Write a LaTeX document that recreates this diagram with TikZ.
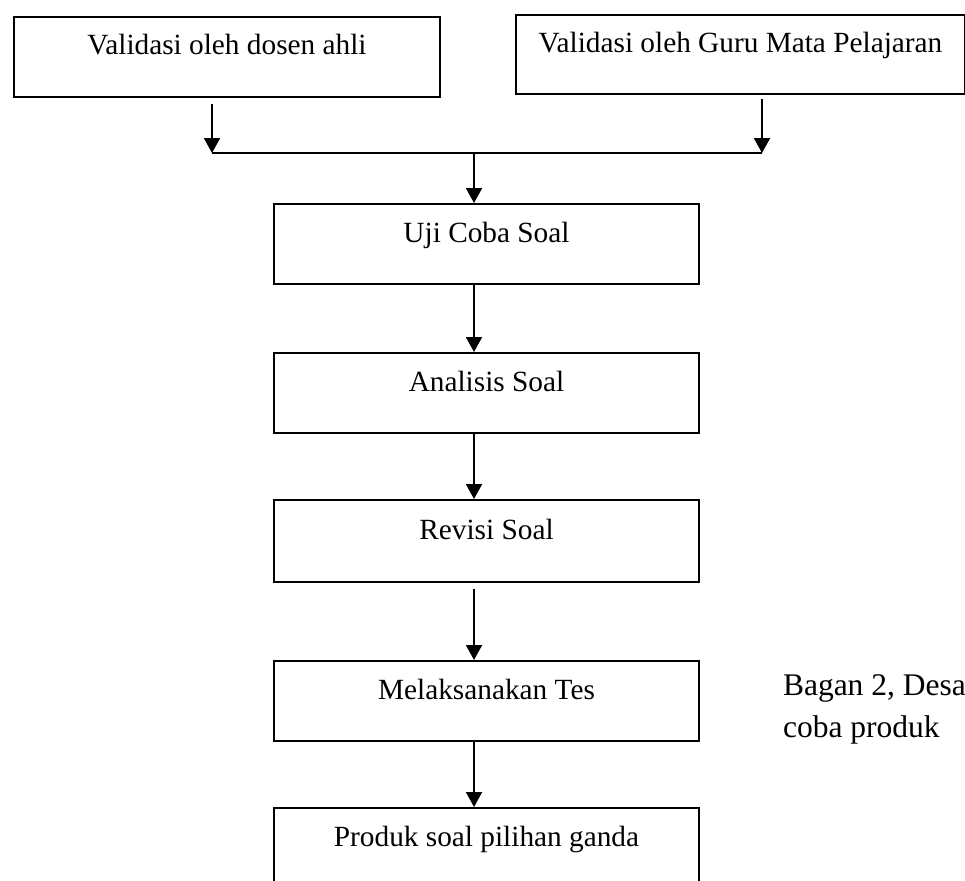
\documentclass[tikz,border=0pt]{standalone}
\usepackage{fontspec}
\setmainfont{Liberation Serif}
\usetikzlibrary{arrows.meta}
\begin{document}
\begin{tikzpicture}[x=1pt,y=-1pt,
  line width=2pt,
  box/.style={draw, line width=2pt, rectangle, anchor=north west, inner sep=0pt,
    minimum height=80pt, text height=20pt, text depth=24pt,
    font=\fontsize{29.3}{35}\selectfont},
  arr/.style={-{Triangle[width=16pt,length=15pt]}, line width=2pt},
  side/.style={anchor=base west, align=left, inner sep=0pt,
    font=\fontsize{31.5}{42}\selectfont}
]
\useasboundingbox (0,0) rectangle (965,880);
\fill[white] (0,0) rectangle (965,880);

\node[box, minimum width=426pt] (v1) at (13,16) {Validasi oleh dosen ahli};
\node[box, minimum width=449pt, minimum height=79pt] (v2) at (515,14) {Validasi oleh Guru Mata Pelajaran};

\node[box, minimum width=425pt] (uji) at (273,203) {Uji Coba Soal};
\node[box, minimum width=425pt] (ana) at (273,352) {Analisis Soal};
\node[box, minimum width=425pt, minimum height=82pt] (rev) at (273,499) {Revisi Soal};
\node[box, minimum width=425pt] (mel) at (273,660) {Melaksanakan Tes};
\node[box, minimum width=425pt] (pro) at (273,807) {Produk soal pilihan ganda};

\node[side] (cap) at (782,737) {Bagan 2, Desa\\coba produk};

\coordinate (j1) at (212,153);
\coordinate (j2) at (762,153);
\coordinate (jc) at (474,153);

\draw[arr, shorten <=6pt] (v1.south -| j1) -- (j1);
\draw[arr, shorten <=4pt] (v2.south -| j2) -- (j2);
\draw (j1) -- (j2);
\draw[arr] (jc) -- (uji.north -| jc);
\draw[arr] (uji.south -| jc) -- (ana.north -| jc);
\draw[arr] (ana.south -| jc) -- (rev.north -| jc);
\draw[arr, shorten <=6pt] (rev.south -| jc) -- (mel.north -| jc);
\draw[arr] (mel.south -| jc) -- (pro.north -| jc);
\end{tikzpicture}
\end{document}
